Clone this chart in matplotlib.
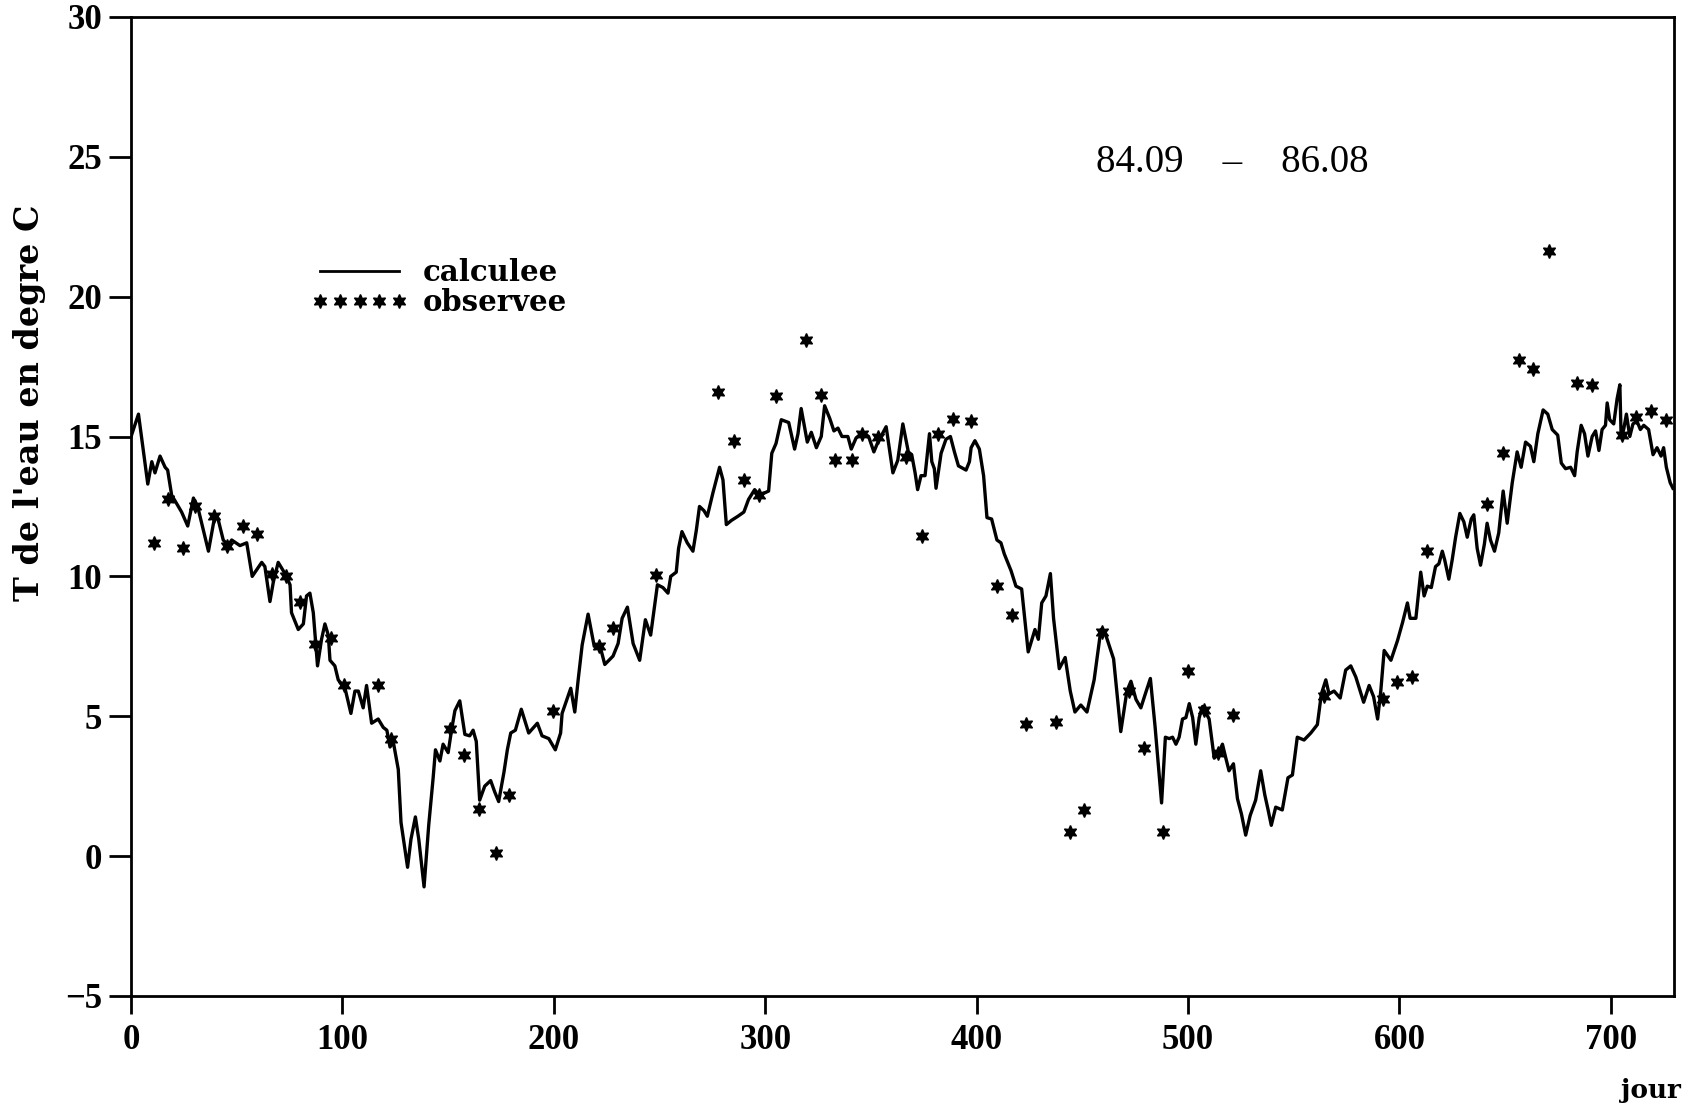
import matplotlib
matplotlib.use("Agg")
import matplotlib.pyplot as plt
from matplotlib.lines import Line2D

# temperature calculee (courbe) : jour, valeur
calc_day = [
    0, 3.5, 7.9, 9.8, 11.3, 13.7, 16.1, 17.3, 19.2, 20.8, 23.9, 26.8, 29.5, 31.8,
    36.6, 39.7, 41.3, 43.6, 46.0, 47.6, 51.5, 54.7, 57.3, 61.8, 63.3, 65.7, 67.3,
    69.6, 72.8, 75.2, 75.9, 79.1, 81.5, 83.0, 84.6, 86.2, 88.2, 90.1, 91.7, 93.3,
    94.1, 96.4, 98.0, 101.2, 104.0, 105.9, 107.5, 109.8, 111.4, 113.8, 116.9,
    119.3, 121.0, 122.5, 124.0, 126.4, 127.7, 130.8, 132.4, 134.5, 136.1, 138.6,
    140.8, 142.9, 144.0, 146.1, 147.6, 150.0, 151.6, 153.2, 155.5, 157.9, 160.2,
    161.8, 163.3, 164.9, 167.3, 170.1, 172.0, 173.9, 176.4, 178.0, 179.6, 181.8,
    184.6, 188.1, 192.2, 194.4, 197.6, 200.7, 203.2, 203.9, 208.0, 209.9, 211.5,
    213.4, 216.2, 219.1, 221.7, 224.1, 228.0, 230.4, 232.3, 234.8, 237.5, 240.6,
    243.3, 245.8, 249.0, 251.6, 254.0, 255.3, 257.9, 259.0, 260.6, 263.1, 265.8,
    267.4, 268.9, 271.0, 272.6, 275.3, 278.4, 280.0, 281.6, 284.0, 287.1, 289.9,
    292.1, 295.0, 297.3, 301.6, 303.1, 305.1, 307.6, 311.1, 313.9, 315.5, 317.0,
    319.9, 321.8, 324.2, 326.5, 328.1, 330.5, 332.5, 334.4, 336.3, 339.1, 340.7,
    343.0, 346.2, 348.9, 351.4, 353.3, 357.2, 360.4, 362.7, 365.1, 367.7, 369.3,
    370.9, 372.1, 373.7, 375.6, 377.7, 378.8, 380.0, 380.8, 383.2, 385.5, 387.6,
    389.5, 391.4, 395.0, 396.6, 397.4, 399.2, 401.3, 403.3, 404.9, 407.1, 409.6,
    411.5, 413.1, 416.3, 418.6, 421.3, 424.4, 427.6, 429.2, 430.8, 432.8, 434.9,
    436.4, 439.1, 441.9, 444.3, 446.5, 449.3, 452.2, 455.6, 458.8, 461.1, 464.8,
    468.2, 471.1, 473.0, 475.4, 477.7, 479.6, 482.2, 484.4, 487.5, 489.3, 491.1,
    492.7, 494.3, 495.8, 497.4, 499.0, 500.6, 502.2, 503.7, 505.3, 506.9, 510.0,
    512.4, 514.3, 516.3, 517.9, 519.4, 521.5, 523.4, 525.3, 527.3, 529.4, 532.0,
    534.4, 536.3, 537.9, 539.4, 541.5, 544.6, 547.3, 549.4, 551.7, 554.9, 558.1,
    561.2, 563.1, 565.2, 566.7, 569.1, 572.0, 574.6, 577.0, 579.4, 583.1, 585.7,
    587.8, 589.7, 591.2, 592.8, 596.0, 599.1, 601.5, 603.8, 605.1, 607.8, 610.1,
    611.7, 613.2, 615.1, 617.1, 618.7, 620.3, 621.4, 623.4, 625.0, 626.6, 628.6,
    630.5, 632.1, 634.0, 635.2, 636.8, 638.4, 640.2, 641.5, 643.1, 645.0, 647.0,
    649.1, 651.0, 653.4, 655.7, 657.6, 659.7, 662.0, 663.6, 665.5, 668.0, 670.2,
    672.3, 674.9, 676.6, 678.6, 681.0, 682.9, 684.1, 686.0, 687.6, 689.2, 691.2,
    692.8, 694.4, 695.9, 697.5, 698.3, 699.5, 701.4, 703.0, 704.3, 704.9, 706.1,
    707.4, 709.0, 710.5, 712.4, 714.0, 715.6, 717.9, 720.0, 721.9, 723.8, 725.0,
    726.3, 728.1, 729.4,
]
calc_temp = [
    15.0, 15.8, 13.3, 14.1, 13.7, 14.3, 13.9, 13.8, 12.9, 12.7, 12.3, 11.8, 12.8, 12.4,
    10.9, 12.2, 12.0, 11.3, 11.1, 11.3, 11.1, 11.2, 10.0, 10.5, 10.35, 9.1, 9.8,
    10.5, 10.1, 9.7, 8.7, 8.1, 8.3, 9.3, 9.4, 8.7, 6.8, 7.75, 8.3, 7.9,
    7.0, 6.8, 6.3, 6.0, 5.1, 5.9, 5.9, 5.3, 6.1, 4.75, 4.9,
    4.6, 4.5, 3.9, 4.1, 3.1, 1.2, -0.4, 0.6, 1.4, 0.6, -1.1,
    1.1, 2.8, 3.8, 3.4, 4.0, 3.7, 4.5, 5.2, 5.55, 4.35, 4.3,
    4.5, 4.1, 2.0, 2.5, 2.7, 2.3, 1.95, 3.0, 3.8, 4.4, 4.5,
    5.25, 4.4, 4.75, 4.3, 4.2, 3.8, 4.4, 5.1, 6.0, 5.15, 6.3,
    7.55, 8.65, 7.5, 7.55, 6.85, 7.15, 7.6, 8.5, 8.9, 7.6, 7.0,
    8.45, 7.9, 9.7, 9.6, 9.4, 10.0, 10.15, 11.0, 11.6, 11.2, 10.9,
    11.65, 12.5, 12.35, 12.15, 13.0, 13.9, 13.45, 11.85, 12.0, 12.15, 12.3,
    12.75, 13.1, 12.9, 13.05, 14.4, 14.75, 15.6, 15.5, 14.55, 15.1, 16.0,
    14.8, 15.15, 14.6, 15.0, 16.1, 15.65, 15.2, 15.3, 15.0, 15.0, 14.55,
    14.95, 15.15, 15.0, 14.45, 14.8, 15.35, 13.7, 14.15, 15.45, 14.45, 14.35,
    13.7, 13.1, 13.6, 13.6, 15.1, 14.1, 13.85, 13.15, 14.4, 14.9, 15.0,
    14.45, 13.95, 13.8, 14.1, 14.6, 14.85, 14.55, 13.6, 12.1, 12.05, 11.3,
    11.2, 10.8, 10.2, 9.65, 9.55, 7.3, 8.1, 7.75, 9.05, 9.3, 10.1,
    8.5, 6.7, 7.1, 5.9, 5.15, 5.4, 5.15, 6.3, 8.1, 7.9, 7.05,
    4.45, 5.9, 6.25, 5.6, 5.3, 5.75, 6.35, 4.65, 1.9, 4.25, 4.2,
    4.25, 4.0, 4.25, 4.9, 4.95, 5.45, 4.95, 4.0, 4.95, 5.35, 4.9,
    3.5, 3.65, 4.0, 3.5, 3.05, 3.3, 2.05, 1.5, 0.75, 1.45, 2.0,
    3.05, 2.2, 1.65, 1.1, 1.75, 1.65, 2.8, 2.9, 4.25, 4.15, 4.4,
    4.7, 5.8, 6.3, 5.8, 5.9, 5.65, 6.65, 6.8, 6.4, 5.5, 6.1,
    5.7, 4.9, 5.9, 7.35, 7.0, 7.7, 8.35, 9.05, 8.5, 8.5, 10.15,
    9.3, 9.65, 9.6, 10.35, 10.45, 10.9, 10.6, 9.9, 10.6, 11.4, 12.25,
    11.95, 11.4, 12.05, 12.2, 11.0, 10.4, 11.15, 11.9, 11.3, 10.9, 11.55,
    13.05, 11.9, 13.35, 14.45, 13.9, 14.8, 14.65, 14.1, 15.1, 15.95, 15.8,
    15.25, 15.05, 14.05, 13.85, 13.9, 13.6, 14.45, 15.4, 15.1, 14.3, 15.0,
    15.2, 14.5, 15.25, 15.4, 16.2, 15.6, 15.45, 16.35, 16.85, 15.0, 15.25,
    15.8, 15.0, 15.45, 15.55, 15.25, 15.4, 15.25, 14.35, 14.6, 14.3, 14.6,
    13.9, 13.35, 13.15,
]

# temperature observee (etoiles)
obs_day = [
    11, 17.7, 24.5, 30.2, 39, 45.5, 52.8, 59.7, 66.5, 73.5, 80, 87, 94.5, 100.8,
    116.7, 123, 150.7, 157.3, 164.4, 172.8, 178.7, 199.8, 221.3, 228, 248.5,
    277.5, 285.3, 290.1, 297.2, 305.1, 319.4, 326.4, 332.9, 340.9, 346, 353.3,
    366.7, 374.3, 381.6, 389, 397.4, 409.6, 416.6, 423.5, 437.5, 444.2, 451,
    459.2, 472, 479, 488.4, 500.1, 507.6, 514.3, 521.5, 564.2, 592.4, 598.7,
    605.8, 613.2, 641.6, 649, 656.5, 663.4, 670.7, 684, 691, 705.1, 712, 718.9, 726,
]
obs_temp = [
    11.2, 12.75, 11.0, 12.5, 12.15, 11.1, 11.8, 11.5, 10.1, 10.0, 9.1, 7.6, 7.8, 6.1,
    6.1, 4.2, 4.55, 3.6, 1.7, 0.1, 2.2, 5.2, 7.5, 8.15, 10.05,
    16.6, 14.85, 13.45, 12.9, 16.45, 18.45, 16.5, 14.15, 14.15, 15.1, 15.0,
    14.27, 11.45, 15.1, 15.63, 15.56, 9.66, 8.63, 4.72, 4.79, 0.86, 1.66,
    8.02, 5.9, 3.85, 0.86, 6.61, 5.21, 3.67, 5.04, 5.72, 5.6, 6.22,
    6.4, 10.91, 12.6, 14.4, 17.72, 17.4, 21.62, 16.9, 16.85, 15.07, 15.68, 15.92, 15.6,
]

x_ticks = [0, 100, 200, 300, 400, 500, 600, 700]
y_ticks = [-5, 0, 5, 10, 15, 20, 25, 30]
periode = "84.09    \u2013    86.08"

fig = plt.figure(figsize=(16.87, 11.06), dpi=100)
ax = fig.add_axes([0.0777, 0.0995, 0.9147, 0.8852])

etoile = (6, 1, 0)

ax.plot(calc_day, calc_temp, color="black", linewidth=2.4)
ax.plot(obs_day, obs_temp, linestyle="none", marker=etoile,
        markersize=10, color="black")

ax.set_xlim(0, 730)
ax.set_ylim(-5, 30)
ax.set_xticks(x_ticks)
ax.set_yticks(y_ticks)

for s in ax.spines.values():
    s.set_linewidth(2.0)

ax.tick_params(axis="x", direction="out", length=13, width=2, pad=7)
ax.tick_params(axis="y", direction="out", length=16, width=2, pad=5)
for lab in ax.get_xticklabels() + ax.get_yticklabels():
    lab.set_fontfamily("Liberation Serif")
    lab.set_fontweight("bold")
    lab.set_fontsize(25)

# titre de l'axe y (decale vers le haut comme l'original)
ax.text(-0.066, 0.606, "T de l'eau en degre C", transform=ax.transAxes,
        rotation=90, ha="center", va="center",
        fontfamily="DejaVu Serif", fontweight="bold", fontsize=24)

ax.text(0.985, -0.097, "jour", transform=ax.transAxes, ha="center",
        va="center", fontfamily="DejaVu Serif", fontweight="bold", fontsize=19)

ax.text(521, 24.8, periode, ha="center", va="center",
        fontfamily="Liberation Serif", fontsize=28)

# legende
poignees = [
    Line2D([], [], color="black", linewidth=2.0),
    Line2D([], [], linestyle="none", marker=etoile, markersize=10, color="black"),
]
leg = ax.legend(poignees, ["calculee", "observee"], loc="upper left",
                bbox_to_anchor=(0.117, 0.754), frameon=False, numpoints=5,
                handlelength=3.3, handletextpad=0.5, labelspacing=0.05,
                borderpad=0, borderaxespad=0,
                prop={"family": "DejaVu Serif", "weight": "bold", "size": 21})

fig.savefig("out.png", dpi=100)
